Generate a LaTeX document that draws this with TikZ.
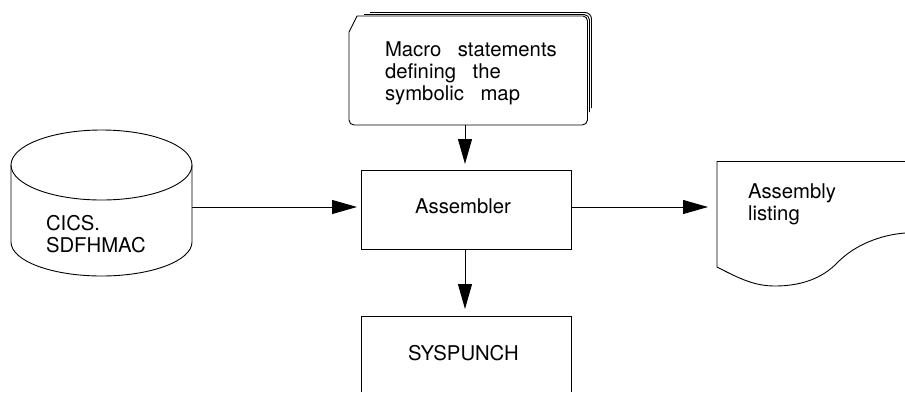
\documentclass[tikz,border=0pt]{standalone}
\usepackage{fontspec}
\setmainfont{TeX Gyre Heros}
\usetikzlibrary{arrows.meta}
\tikzset{
  x=1pt,y=-1pt,
  outline/.style={draw=black,line width=0.9pt},
  frame/.style={draw=none,inner sep=0pt,outer sep=0pt,rectangle},
  box/.style={frame,outline,minimum width=210pt,minimum height=79pt},
  flow/.style={draw=black,line width=0.9pt,-{Triangle[length=25pt,width=14pt]}},
  lab/.style={inner sep=0pt,outer sep=0pt,anchor=base west,align=left,font=\fontsize{20.3}{22}\selectfont},
  mid/.style={inner sep=0pt,outer sep=0pt,anchor=base,font=\fontsize{20.3}{22}\selectfont}
}
\begin{document}
\begin{tikzpicture}
\useasboundingbox (0,0) rectangle (905,392);
% invisible frames that carry the connector anchors
\node[frame,minimum width=239pt,minimum height=109pt] (card) at (468.5,70.5) {};
\node[frame,minimum width=181pt,minimum height=146pt] (disk) at (101.5,203) {};
\node[frame,minimum width=188pt,minimum height=92pt] (doc) at (811,207) {};
\node[box] (asm) at (466,209.5) {};
\node[frame,minimum width=210pt,minimum height=76pt] (sys) at (466,354) {};
% stacked card
\draw[outline] (370,12.5) -- (585,12.5) to[out=0,in=90] (591.5,19) -- (591.5,108);
\draw[outline] (364,14.5) -- (584,14.5) to[out=0,in=90] (589.5,20) -- (589.5,112);
\draw[outline,fill=white] (357,16) -- (583,16) to[out=0,in=90] (587.5,21) -- (587.5,120) to[out=-90,in=0] (582,125)
  -- (354,125) to[out=180,in=-90] (349,120) -- (349,32) -- cycle;
% disk
\draw[outline] (11,165) arc[start angle=180,end angle=-180,x radius=90.5,y radius=35];
\draw[outline] (11,165) -- (11,242) arc[start angle=180,end angle=0,x radius=90.5,y radius=34] -- (192,165);
% document
\draw[outline] (905,161.5) -- (717,161.5) -- (717,267)
  .. controls (740,279) and (755,286) .. (775,286)
  .. controls (800,286) and (822,279) .. (838,262)
  .. controls (855,245) and (880,235) .. (905,233);
% open box
\draw[outline] (sys.south west) |- (sys.north east) -- (sys.south east);
% labels
\node[lab] (t1) at (385,100) {Macro\hspace{11pt} statements\\[0pt]defining\hspace{11pt} the\\[0pt]symbolic\hspace{11pt} map};
\node[mid] (t2) at (463,213) {Assembler};
\node[mid] (t3) at (463.5,360) {SYSPUNCH};
\node[lab] (t4) at (46,252) {CICS.\\[0pt]SDFHMAC};
\node[lab] (t5) at (748,220) {Assembly\\[0pt]listing};
% connectors
\draw[flow,shorten >=6pt] ([xshift=-1pt]card.south -| asm.north) -- ([xshift=-1pt]asm.north);
\draw[flow,shorten >=4pt] ([yshift=2.5pt]disk.east |- asm.west) -- ([yshift=2.5pt]asm.west);
\draw[flow,shorten >=9pt] ([yshift=2.5pt]asm.east) -- ([yshift=2.5pt]doc.west |- asm.east);
\draw[flow,shorten >=7pt] ([xshift=-1pt]asm.south) -- ([xshift=-1pt]sys.north);
\end{tikzpicture}
\end{document}
